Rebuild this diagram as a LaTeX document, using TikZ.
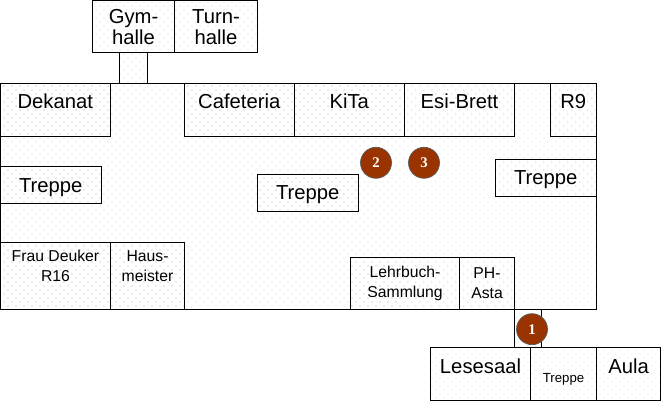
\documentclass[tikz,border=0pt]{standalone}
\usepackage{fontspec}
\setmainfont{Liberation Sans}
\newfontfamily\numfont{Liberation Serif}
\usetikzlibrary{patterns.meta}
\definecolor{marker}{HTML}{993300}
\tikzset{
  room/.style={rectangle, draw, line width=0.7pt, inner sep=0pt, align=center, pattern={Dots[distance=0.1414cm, angle=45, radius=0.3pt]}, pattern color=black!35},
  big/.style={font=\fontsize{14.4}{14.8}\selectfont},
  small/.style={font=\fontsize{11.2}{14.2}\selectfont},
  high/.style={text height=0.36cm, text depth=0.41cm},
  stair/.style={text depth=0pt},
  stop/.style={circle, draw=black!65, line width=0.5pt, fill=marker, text=white, minimum size=0.775cm, inner sep=0pt, font=\numfont\bfseries\fontsize{10.5}{10.5}\selectfont}
}
\begin{document}
\begin{tikzpicture}
  \useasboundingbox (0, 0) rectangle (16.55, 10.05);
  % Floor and passages
  \node (upperGang) [room, minimum width=0.6875cm, minimum height=0.7625cm] at (3.331, 8.344) {};
  \node (lowerGang) [room, minimum width=0.675cm, minimum height=0.95cm] at (13.2, 1.8375) {};
  \node (floor) [room, minimum width=14.8875cm, minimum height=5.65cm] at (7.456, 5.1375) {};
  % Halls
  \node (gym) [room, big, minimum width=2.05cm, minimum height=1.31cm] at (3.3375, 9.381) {Gym-\\halle};
  \node (turn) [room, big, minimum width=2.075cm, minimum height=1.31cm] at (5.4, 9.381) {Turn-\\halle};
  % Upper rooms
  \node (dekanat) [room, big, high, minimum width=2.7375cm, minimum height=1.3125cm] at (1.381, 7.306) {Dekanat};
  \node (cafeteria) [room, big, high, minimum width=2.7375cm, minimum height=1.3125cm] at (5.981, 7.306) {Cafeteria};
  \node (kita) [room, big, high, minimum width=2.7625cm, minimum height=1.3125cm] at (8.731, 7.306) {KiTa};
  \node (esi) [room, big, high, minimum width=2.75cm, minimum height=1.3125cm] at (11.4875, 7.306) {Esi-Brett};
  \node (rNine) [room, big, high, minimum width=1.1375cm, minimum height=1.3125cm] at (14.331, 7.306) {R9};
  % Stairs
  \node (treppeL) [room, big, stair, minimum width=2.5125cm, minimum height=0.9375cm] at (1.269, 5.419) {Treppe};
  \node (treppeM) [room, big, stair, minimum width=2.5125cm, minimum height=0.9125cm] at (7.694, 5.231) {Treppe};
  \node (treppeR) [room, big, stair, minimum width=2.5125cm, minimum height=0.925cm] at (13.644, 5.6) {Treppe};
  % Lower rooms
  \node (deuker) [room, small, text depth=0.5cm, minimum width=2.75cm, minimum height=1.6875cm] at (1.3875, 3.144) {Frau Deuker\\R16};
  \node (haus) [room, small, text depth=0.5cm, minimum width=1.85cm, minimum height=1.675cm] at (3.6875, 3.15) {Haus-\\meister};
  \node (lehrbuch) [room, small, minimum width=2.725cm, minimum height=1.3cm] at (10.125, 2.9625) {Lehrbuch-\\Sammlung};
  \node (asta) [room, small, minimum width=1.375cm, minimum height=1.3cm] at (12.175, 2.9625) {PH-\\Asta};
  % Lesesaal row
  \node (lesesaal) [room, big, high, minimum width=2.5cm, minimum height=1.325cm] at (12.0125, 0.7) {Lesesaal};
  \node (treppeS) [room, font=\fontsize{9.4}{9.4}\selectfont, text height=0.4cm, text depth=0pt, minimum width=1.65cm, minimum height=1.325cm] at (14.0875, 0.7) {Treppe};
  \node (aula) [room, big, high, minimum width=1.6cm, minimum height=1.325cm] at (15.7125, 0.7) {Aula};
  % Markers
  \node (stopOne) [stop] at (13.3, 1.82) {1};
  \node (stopTwo) [stop] at (9.4, 5.98) {2};
  \node (stopThree) [stop] at (10.6, 5.98) {3};
\end{tikzpicture}
\end{document}
